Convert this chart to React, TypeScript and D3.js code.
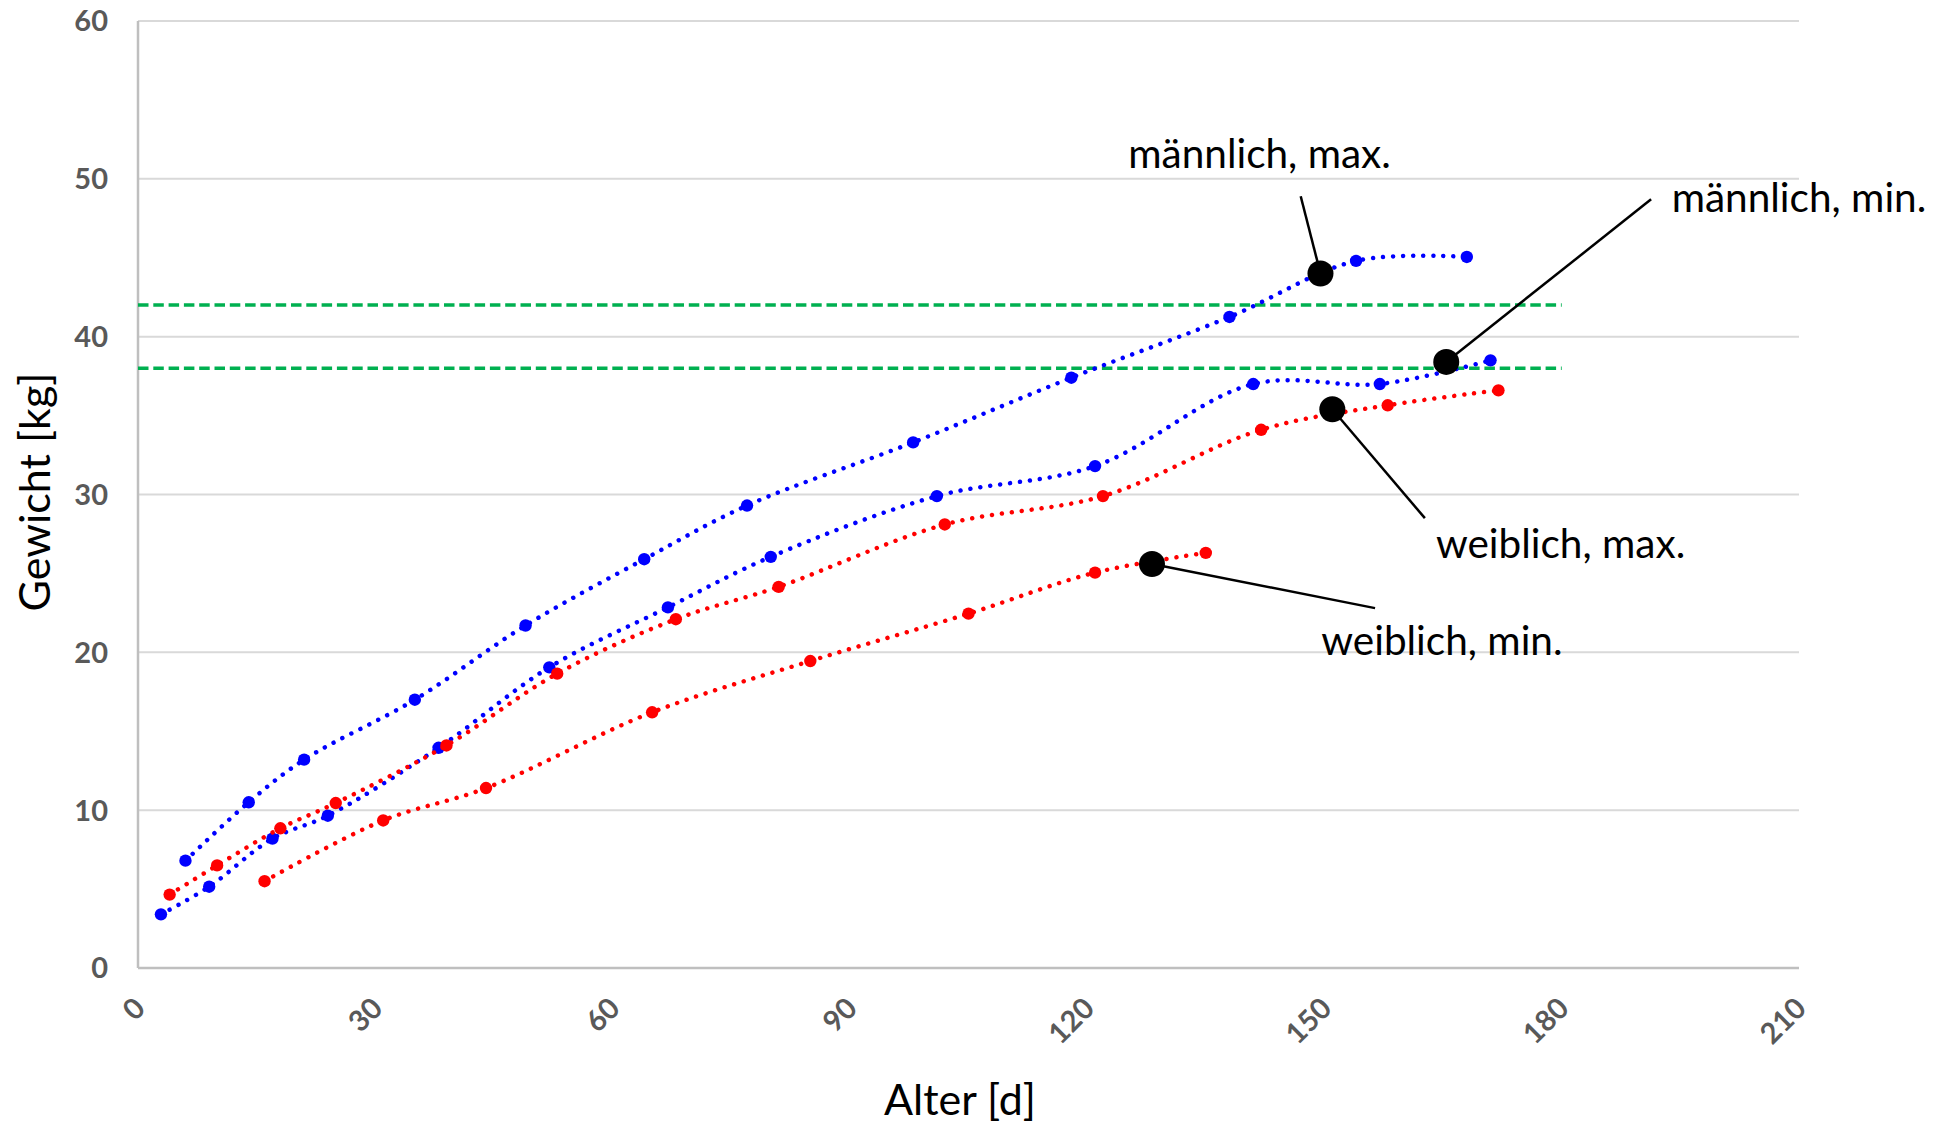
import React from "react";
import * as d3 from "d3";

// ---- data ----
const maleMaxAge = [6, 14, 21, 35, 49, 64, 77, 98, 118, 138, 154, 168];
const maleMaxWeight = [6.8, 10.5, 13.2, 17.0, 21.7, 25.9, 29.3, 33.3, 37.4, 41.25, 44.8, 45.05];

const maleMinAge = [2.9, 9, 17, 24, 38, 52, 67, 80, 101, 121, 141, 157, 171];
const maleMinWeight = [3.4, 5.15, 8.2, 9.65, 13.95, 19.05, 22.85, 26.05, 29.9, 31.8, 37.0, 37.0, 38.5];

const femaleMaxAge = [4, 10, 18, 25, 39, 53, 68, 81, 102, 122, 142, 158, 172];
const femaleMaxWeight = [4.65, 6.5, 8.85, 10.45, 14.1, 18.65, 22.1, 24.15, 28.1, 29.9, 34.1, 35.65, 36.6];

const femaleMinAge = [16, 31, 44, 65, 85, 105, 121, 135];
const femaleMinWeight = [5.5, 9.35, 11.4, 16.2, 19.45, 22.45, 25.05, 26.3];

const referenceLines = [42, 38];
const referenceLineEnd = 180;

const xTicks = [0, 30, 60, 90, 120, 150, 180, 210];
const yTicks = [0, 10, 20, 30, 40, 50, 60];

const annotationLabels = ["männlich, max.", "männlich, min.", "weiblich, max.", "weiblich, min."];
const annotationPointAge = [149.5, 165.4, 151.0, 128.2];
const annotationPointWeight = [44.0, 38.4, 35.4, 25.6];
const annotationLineEndAge = [147.0, 191.3, 162.7, 156.4];
const annotationLineEndWeight = [48.9, 48.7, 28.5, 22.8];
const annotationTextAge = [125.2, 193.9, 164.1, 149.6];
const annotationTextWeight = [50.7, 47.9, 25.98, 19.8];

const xTitle = "Alter [d]";
const yTitle = "Gewicht [kg]";

// ---- layout ----
const W = 1946;
const H = 1126;
const left = 138;
const right = 1799;
const top = 21;
const bottom = 968;
const FONT = "Lato, 'Open Sans', sans-serif";

export default function App() {
  const x = d3.scaleLinear().domain([0, 210]).range([left, right]);
  const y = d3.scaleLinear().domain([0, 60]).range([bottom, top]);

  const line = d3
    .line<[number, number]>()
    .x((d) => x(d[0]))
    .y((d) => y(d[1]))
    .curve(d3.curveCatmullRom.alpha(0.5));

  const series = [
    { age: maleMaxAge, w: maleMaxWeight, color: "#0000ff" },
    { age: maleMinAge, w: maleMinWeight, color: "#0000ff" },
    { age: femaleMaxAge, w: femaleMaxWeight, color: "#ff0000" },
    { age: femaleMinAge, w: femaleMinWeight, color: "#ff0000" },
  ];

  return (
    <svg
      width={W}
      height={H}
      style={{ position: "absolute", left: 0, top: 0, background: "#fff" }}
      fontFamily={FONT}
    >
      {/* gridlines */}
      {yTicks.filter((t) => t > 0).map((t) => (
        <line key={"g" + t} x1={left} x2={right} y1={y(t)} y2={y(t)} stroke="#d9d9d9" strokeWidth={2} />
      ))}
      {/* axes */}
      <line x1={left} x2={left} y1={y(60)} y2={y(0)} stroke="#bfbfbf" strokeWidth={2.5} />
      <line x1={left} x2={right} y1={y(0)} y2={y(0)} stroke="#bfbfbf" strokeWidth={2.5} />

      {/* y tick labels */}
      {yTicks.map((t) => (
        <text key={"yt" + t} x={108} y={y(t)} dy="0.36em" textAnchor="end" fontSize={29} fontWeight="bold" fill="#595959">
          {t}
        </text>
      ))}
      {/* x tick labels */}
      {xTicks.map((t) => (
        <text
          key={"xt" + t}
          transform={`translate(${x(t) + 9},${bottom + 42}) rotate(-45)`}
          textAnchor="end"
          fontSize={29}
          fontWeight="bold"
          fill="#595959"
        >
          {t}
        </text>
      ))}

      {/* axis titles */}
      <text x={960} y={1115} textAnchor="middle" fontSize={43} fill="#000">
        {xTitle}
      </text>
      <text transform={`translate(50,492) rotate(-90)`} textAnchor="middle" fontSize={43} fill="#000">
        {yTitle}
      </text>

      {/* reference lines */}
      {referenceLines.map((v) => (
        <line
          key={"r" + v}
          x1={x(0)}
          x2={x(referenceLineEnd)}
          y1={y(v)}
          y2={y(v)}
          stroke="#00b050"
          strokeWidth={3.5}
          strokeDasharray="10.5 4.8"
        />
      ))}

      {/* series */}
      {series.map((s, i) => {
        const pts = s.age.map((a, j) => [a, s.w[j]] as [number, number]);
        return (
          <g key={"s" + i}>
            <path
              d={line(pts) || ""}
              fill="none"
              stroke={s.color}
              strokeWidth={4.5}
              strokeLinecap="round"
              strokeDasharray="0.01 10"
            />
            {pts.map((p, j) => (
              <circle key={j} cx={x(p[0])} cy={y(p[1])} r={6.2} fill={s.color} />
            ))}
          </g>
        );
      })}

      {/* annotations */}
      {annotationLabels.map((lab, i) => (
        <g key={"a" + i}>
          <line
            x1={x(annotationPointAge[i])}
            y1={y(annotationPointWeight[i])}
            x2={x(annotationLineEndAge[i])}
            y2={y(annotationLineEndWeight[i])}
            stroke="#000"
            strokeWidth={2.5}
          />
          <circle cx={x(annotationPointAge[i])} cy={y(annotationPointWeight[i])} r={13} fill="#000" />
          <text x={x(annotationTextAge[i])} y={y(annotationTextWeight[i])} fontSize={40.5} fill="#000">
            {lab}
          </text>
        </g>
      ))}
    </svg>
  );
}
